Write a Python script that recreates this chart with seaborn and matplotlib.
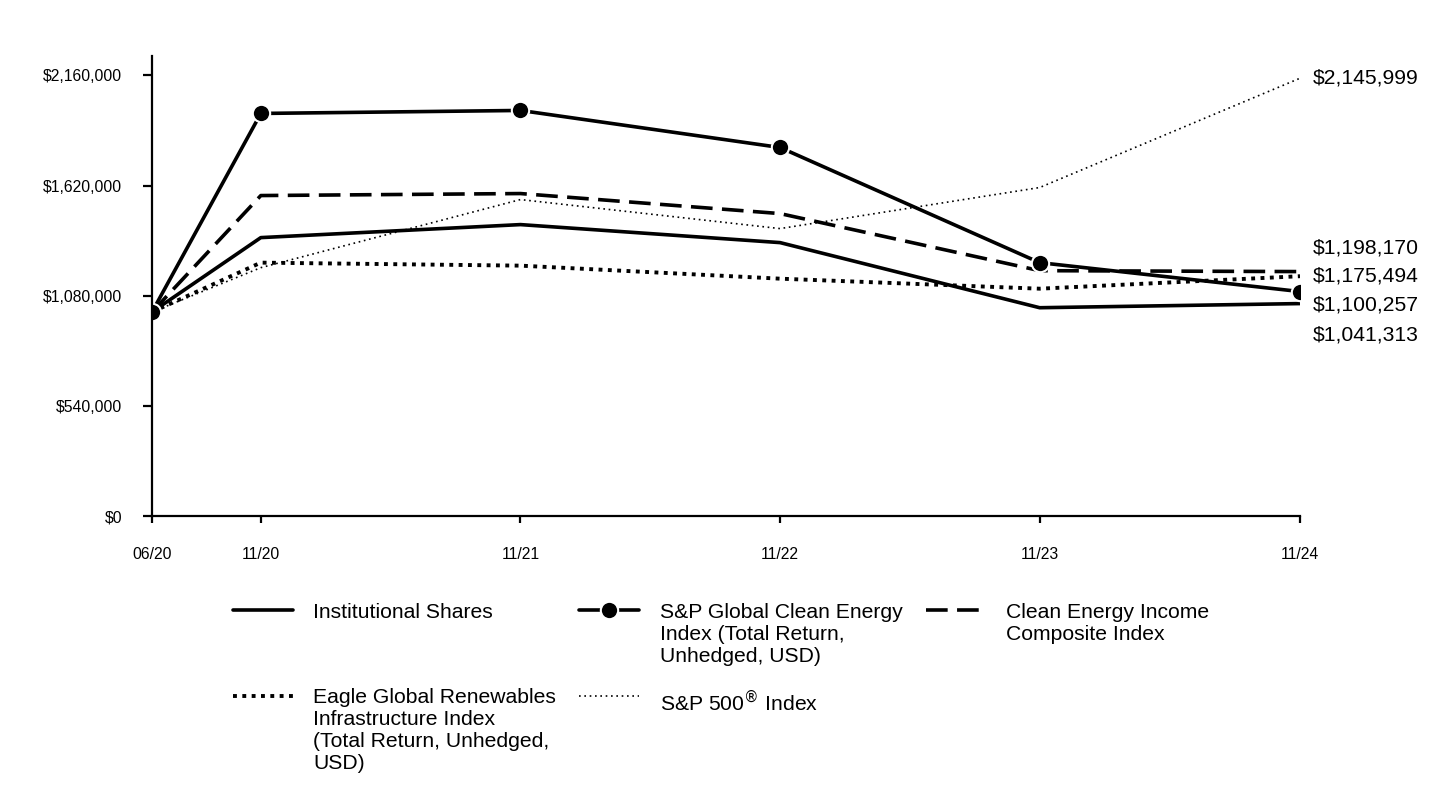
import pandas as pd
import matplotlib
matplotlib.use('Agg')
import matplotlib.pyplot as plt
import matplotlib.ticker as mticker
import seaborn as sns

# Growth of a hypothetical $1,000,000 investment
dates = pd.to_datetime(['2020-06-30', '2020-11-30', '2021-11-30', '2022-11-30', '2023-11-30', '2024-11-30'])
tick_labels = ['06/20', '11/20', '11/21', '11/22', '11/23', '11/24']

institutional = [1000000, 1364700, 1428500, 1340200, 1021000, 1041313]
sp_global_clean = [1000000, 1973400, 1988100, 1806500, 1242000, 1100257]
clean_income = [1000000, 1570900, 1580700, 1482500, 1202700, 1198170]
eagle_renew = [1000000, 1242000, 1227300, 1163400, 1114300, 1175494]
sp500 = [1000000, 1217400, 1551200, 1408900, 1610200, 2145999]

series_names = ['Institutional Shares',
                'S&P Global Clean Energy\nIndex (Total Return,\nUnhedged, USD)',
                'Clean Energy Income\nComposite Index',
                'Eagle Global Renewables\nInfrastructure Index\n(Total Return, Unhedged,\nUSD)',
                'S&P 500$^{®}$ Index']

sns.set_style('white')
plt.rcParams['font.family'] = ['Liberation Sans', 'DejaVu Sans']
plt.rcParams['text.color'] = 'black'
plt.rcParams['xtick.color'] = 'black'
plt.rcParams['ytick.color'] = 'black'

fig = plt.figure(figsize=(14.4, 7.92), dpi=100)
ax = fig.add_axes([152 / 1440, 1 - 516 / 792, 1148 / 1440, 460 / 792])

sns.lineplot(x=dates, y=sp500, ax=ax, color='black', linewidth=1.2,
             linestyle=(0, (1, 2.2)), label=series_names[4])
sns.lineplot(x=dates, y=eagle_renew, ax=ax, color='black', linewidth=2.8,
             linestyle=(0, (1, 1.4)), label=series_names[3])
sns.lineplot(x=dates, y=clean_income, ax=ax, color='black', linewidth=2.6,
             linestyle=(0, (6, 2.6)), label=series_names[2])
sns.lineplot(x=dates, y=institutional, ax=ax, color='black', linewidth=2.6,
             label=series_names[0])
sns.lineplot(x=dates, y=sp_global_clean, ax=ax, color='black', linewidth=2.6,
             marker='o', markersize=12.5, markerfacecolor='black',
             markeredgecolor='white', markeredgewidth=1.5, label=series_names[1])

ax.set_xlim(dates[0], dates[-1])
ax.set_ylim(0, 2255000)
ax.set_yticks([0, 540000, 1080000, 1620000, 2160000])
ax.yaxis.set_major_formatter(mticker.FuncFormatter(lambda v, p: '${:,.0f}'.format(v)))
ax.set_xticks(dates, labels=tick_labels)
ax.set_xlabel('')
ax.set_ylabel('')

for s in ['top', 'right']:
    ax.spines[s].set_visible(False)
for s in ['left', 'bottom']:
    ax.spines[s].set_linewidth(1.6)
    ax.spines[s].set_color('black')
ax.tick_params(axis='y', length=6.5, width=1.6, pad=15, labelsize=11.3, left=True, colors='black')
ax.tick_params(axis='x', length=5, width=1.6, pad=17, labelsize=11.3, bottom=True, colors='black')
ax.grid(False)

# End-of-period value labels
end_values = [sp500[-1], clean_income[-1], eagle_renew[-1], sp_global_clean[-1], institutional[-1]]
label_offsets = [(9.4, 0), (9.4, 17.3), (9.4, 0), (9.4, -9.4), (9.4, -22.4)]
for val, off in zip(end_values, label_offsets):
    ax.annotate('${:,.0f}'.format(val), xy=(dates[-1], val), xytext=off,
                textcoords='offset points', ha='left', va='center',
                fontsize=15.2, color='black', annotation_clip=False)

# Legend, row-major order in 3 columns
handles, labels = ax.get_legend_handles_labels()
lookup = dict(zip(labels, handles))
order = [0, 3, 1, 4, 2]
leg_labels = [series_names[i] for i in order]
leg_handles = [lookup[l] for l in leg_labels]
leg_labels[0] = leg_labels[0] + '\n\n'
ax.get_legend().remove()
leg = fig.legend(leg_handles, leg_labels, ncol=3, loc='upper left',
                 bbox_to_anchor=(233 / 1440, 1 - 603 / 792), frameon=False,
                 fontsize=15.2, handlelength=2.85, handletextpad=0.95,
                 columnspacing=1.1, labelspacing=1.05, borderpad=0, borderaxespad=0)
for t in leg.get_texts():
    t.set_linespacing(1.2)
    t.set_color('black')
leg._legend_handle_box.align = 'top'
for col in leg._legend_handle_box.get_children():
    for item in col.get_children():
        item.align = 'top'

fig.savefig('out.png', dpi=100, facecolor='white')
